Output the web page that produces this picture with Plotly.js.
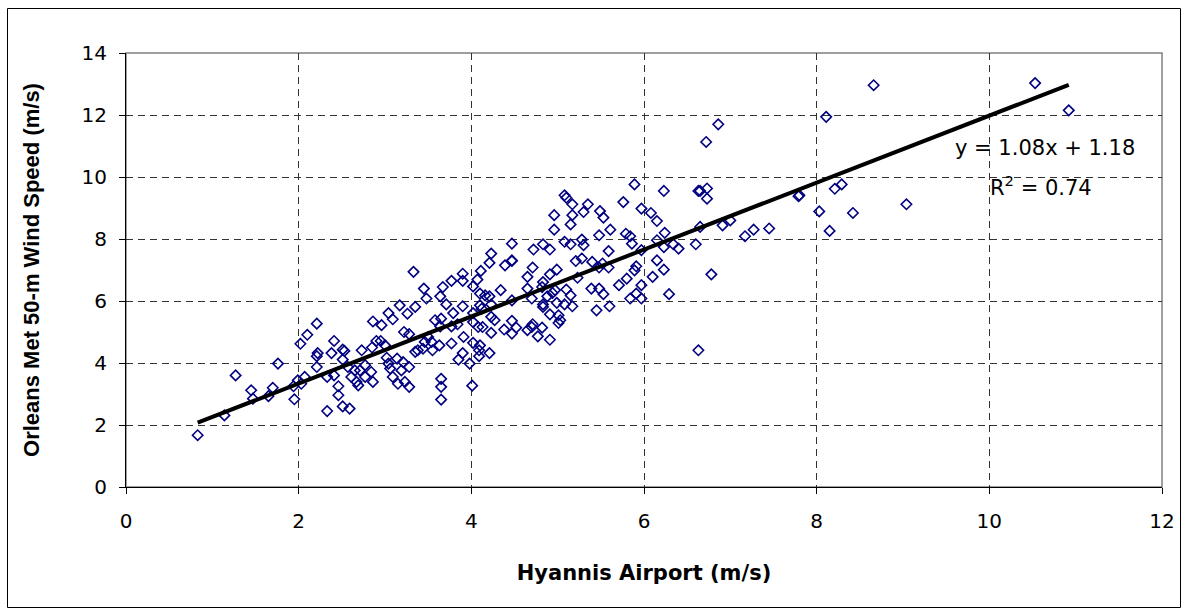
<!DOCTYPE html>
<html>
<head>
<meta charset="utf-8">
<script src="https://cdn.plot.ly/plotly-3.0.1.min.js"></script>
<style>html,body{margin:0;padding:0;background:#fff;}#chart{width:1187px;height:614px;}</style>
</head>
<body>
<div id="chart"></div>
<script>
// Hyannis Airport wind speed (m/s)
const hyannis = [
0.83,1.14,1.27,1.45,1.47,1.65,1.70,1.76,1.95,1.94,1.99,2.03,2.07,2.02,2.10,2.21,2.22,2.21,2.21,2.33,
2.33,2.41,2.38,2.41,2.46,2.46,2.51,2.53,2.51,2.51,2.59,2.57,2.61,2.65,2.67,2.69,2.71,2.73,2.77,2.77,
2.84,2.86,2.85,2.86,2.90,2.95,2.96,3.00,3.02,3.04,3.04,3.09,3.06,3.09,3.14,3.17,3.19,3.15,3.21,3.23,
3.28,3.28,3.26,3.35,3.22,3.28,3.35,3.38,3.44,3.46,3.50,3.55,3.58,3.63,3.54,3.33,3.45,3.48,3.65,3.65,
3.65,
5.08,5.10,5.17,5.35,5.30,5.17,5.15,4.96,4.96,5.49,5.53,5.61,5.76,5.89,5.97,6.08,6.15,6.23,6.63,6.24,
6.15,6.23,6.34,6.40,6.60,6.15,6.23,6.10,6.29,6.63,5.79,5.84,5.86,5.97,5.91,5.89,5.80,5.71,5.97,5.91,
5.84,5.97,5.48,5.59,5.59,5.48,5.40,5.52,5.39,5.48,5.53,5.45,5.60,5.28,5.30,5.08,5.15,5.21,5.28,5.23,
5.10,5.15,5.17,5.08,4.99,4.99,4.91,4.91,4.83,4.72,4.71,4.65,4.65,4.83,4.82,4.97,4.94,4.88,4.83,4.70,
4.83,4.91,5.01,5.03,5.01,4.91,4.77,4.82,4.71,4.70,4.65,4.52,4.47,4.38,4.47,4.47,4.34,4.23,4.21,4.16,
4.10,4.10,4.12,4.02,4.02,4.08,4.13,4.23,4.27,4.23,4.21,4.10,4.09,4.02,4.09,3.98,3.85,3.90,3.77,3.91,
3.84,3.77,3.64,3.65,3.79,3.90,3.71,3.64,3.67,3.77,3.90,3.90,4.02,4.07,4.11,4.21,4.23,4.39,4.47,4.47,
4.47,4.01,
6.86,6.72,6.65,6.73,6.73,7.79,6.65,6.91,7.00,7.17,7.27,7.45,6.78,
8.66,8.11,10.53,10.92,7.80,8.21,8.29,8.03,8.42,8.15,9.04
];
// Orleans Met 50-m wind speed (m/s)
const orleans = [
1.67,2.31,3.60,3.12,2.85,2.93,3.20,3.98,2.83,3.25,3.44,3.33,3.55,4.62,4.91,5.27,4.32,3.87,4.22,3.55,
2.45,4.71,4.32,3.60,3.25,2.96,4.43,4.39,4.11,2.60,2.53,3.87,3.55,3.76,3.39,3.28,3.76,4.41,3.93,3.55,
3.71,3.39,4.50,5.34,4.71,4.71,5.22,4.57,4.17,5.61,3.98,5.41,3.82,3.55,4.14,5.86,3.76,3.33,4.03,3.39,
3.87,3.23,5.59,5.81,5.00,4.93,4.36,4.41,4.46,4.68,4.84,4.41,5.38,4.57,4.68,6.94,6.40,6.08,3.49,3.23,
2.82,
9.41,9.33,9.12,9.12,8.87,8.77,8.47,8.77,8.30,8.90,8.69,8.30,9.19,9.76,8.98,8.84,8.58,9.55,9.55,8.20,
7.96,7.74,7.83,7.69,7.83,7.31,7.01,6.78,6.22,4.41,8.17,8.09,7.85,7.64,7.12,6.99,6.72,6.51,6.51,6.24,
6.08,6.08,8.12,7.61,7.08,7.08,7.26,7.21,6.40,6.40,6.22,5.70,5.83,7.98,7.80,7.91,7.83,7.29,7.37,6.75,
6.37,6.18,5.83,5.89,5.94,7.01,6.86,7.66,7.83,7.66,7.08,6.78,6.40,6.61,6.45,6.35,6.26,6.15,5.89,6.08,
5.81,5.57,5.54,5.38,5.29,4.75,4.86,5.14,5.25,5.16,5.06,5.14,4.95,5.08,5.36,6.02,6.35,5.89,6.15,6.18,
6.24,5.86,5.75,5.61,5.32,5.16,5.16,5.49,5.38,4.97,4.32,4.57,4.41,4.65,4.22,3.98,4.11,4.32,4.63,4.84,
5.25,5.18,5.18,5.43,5.61,5.83,5.89,6.15,6.45,6.65,6.88,6.65,6.47,6.69,6.97,7.23,7.53,7.15,7.29,7.85,
7.31,3.27,
11.70,11.13,9.55,9.63,9.30,9.38,8.39,8.44,8.60,8.09,8.30,8.34,6.86,
12.96,11.94,13.03,12.15,9.41,9.62,9.76,8.89,8.84,8.26,9.12
];
// Linear trendline reported on the chart
const trendSlope = 1.08;
const trendIntercept = 1.18;
const trendLabel = "y = 1.08x + 1.18";
const r2Label = "R<sup>2</sup> = 0.74";
const xTicks = [0, 2, 4, 6, 8, 10, 12];
const yTicks = [0, 2, 4, 6, 8, 10, 12, 14];

const xMin = Math.min(...hyannis), xMax = Math.max(...hyannis);
const trendX = [xMin, xMax];
const trendY = trendX.map(v => trendSlope * v + trendIntercept);

const FONT = "DejaVu Sans, Liberation Sans, Arial, sans-serif";
const YFONT = "Liberation Sans, Arial, sans-serif";

const traces = [
  {
    x: hyannis, y: orleans, type: "scatter", mode: "markers",
    marker: {symbol: "diamond-open", size: 8, color: "#000080", line: {width: 1.6, color: "#000080"}},
    hoverinfo: "x+y", showlegend: false
  },
  {
    x: trendX, y: trendY, type: "scatter", mode: "lines",
    line: {color: "#000000", width: 4}, hoverinfo: "skip", showlegend: false
  }
];

const L = 126, R = 25, T = 53, B = 127, W = 1187, H = 614;
const pw = W - L - R, ph = H - T - B;
const px2x = p => (p - L) / pw;
const py2y = p => (H - B - p) / ph;

const layout = {
  width: W, height: H,
  margin: {l: L, r: R, t: T, b: B},
  paper_bgcolor: "#ffffff", plot_bgcolor: "#ffffff",
  font: {family: FONT, color: "#000000", size: 20},
  showlegend: false,
  xaxis: {
    range: [0, 12], tickvals: xTicks, ticktext: xTicks.map(String),
    showline: true, linecolor: "#000000", linewidth: 1,
    ticks: "outside", ticklen: 6, tickcolor: "#000000", tickwidth: 1,
    showgrid: true, gridcolor: "#333333", gridwidth: 1, griddash: "7px,5px",
    zeroline: false, ticklabelstandoff: 10,
    tickfont: {family: FONT, size: 20, color: "#000"},
    title: {text: "<b>Hyannis Airport (m/s)</b>", font: {family: FONT, size: 21, color: "#000"}, standoff: 33},
    fixedrange: true
  },
  yaxis: {
    range: [0, 14], tickvals: yTicks, ticktext: yTicks.map(String),
    showline: true, linecolor: "#000000", linewidth: 1,
    ticks: "outside", ticklen: 6, tickcolor: "#000000", tickwidth: 1,
    showgrid: true, gridcolor: "#333333", gridwidth: 1, griddash: "7px,5px",
    zeroline: false, ticklabelstandoff: 8,
    tickfont: {family: FONT, size: 20, color: "#000"},
    title: {text: "<b>Orleans Met 50-m Wind Speed (m/s)</b>", font: {family: YFONT, size: 22, color: "#000"}, standoff: 35},
    fixedrange: true
  },
  shapes: [
    {type: "rect", xref: "paper", yref: "paper", x0: 0, x1: 1, y0: 0, y1: 1,
     line: {color: "#808080", width: 1.5}, fillcolor: "rgba(0,0,0,0)", layer: "below"},
    {type: "rect", xref: "paper", yref: "paper", x0: px2x(950), x1: px2x(1160), y0: py2y(208), y1: py2y(131),
     line: {width: 0}, fillcolor: "#ffffff", layer: "between"},
    {type: "rect", xref: "paper", yref: "paper", x0: px2x(7.5), x1: px2x(1180.5), y0: py2y(607.5), y1: py2y(8.5),
     line: {color: "#000000", width: 1}, fillcolor: "rgba(0,0,0,0)"}
  ],
  annotations: [
    {xref: "paper", yref: "paper", x: px2x(1045), y: py2y(148), text: trendLabel, showarrow: false,
     xanchor: "center", yanchor: "middle", font: {family: FONT, size: 21, color: "#000"}},
    {xref: "paper", yref: "paper", x: px2x(1041), y: py2y(186), text: r2Label, showarrow: false,
     xanchor: "center", yanchor: "middle", font: {family: FONT, size: 21, color: "#000"}}
  ]
};

Plotly.newPlot("chart", traces, layout, {displayModeBar: false, staticPlot: true});
</script>
</body>
</html>
